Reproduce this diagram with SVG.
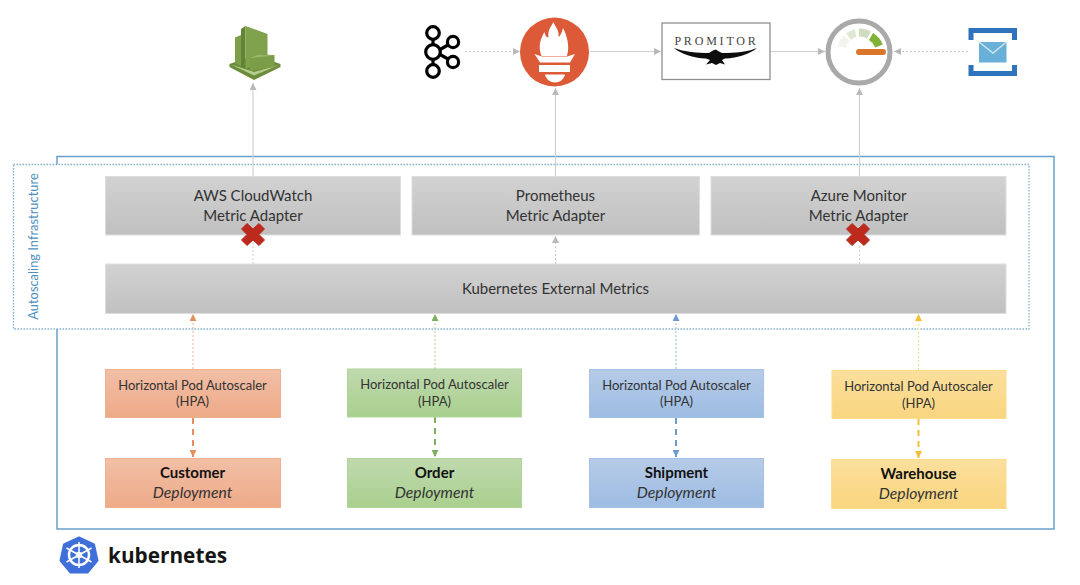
<svg xmlns="http://www.w3.org/2000/svg" width="1080" height="585" viewBox="0 0 1080 585">
<defs>
<linearGradient id="gGray" x1="0" y1="0" x2="0" y2="1"><stop offset="0" stop-color="#d2d2d2"/><stop offset="1" stop-color="#c0c0c0"/></linearGradient>
<linearGradient id="gOrange" x1="0" y1="0" x2="0" y2="1"><stop offset="0" stop-color="#f2bfa6"/><stop offset="1" stop-color="#eeaa88"/></linearGradient>
<linearGradient id="gGreen" x1="0" y1="0" x2="0" y2="1"><stop offset="0" stop-color="#bfd9ae"/><stop offset="1" stop-color="#a9d08e"/></linearGradient>
<linearGradient id="gBlue" x1="0" y1="0" x2="0" y2="1"><stop offset="0" stop-color="#b6cbe7"/><stop offset="1" stop-color="#9dbce2"/></linearGradient>
<linearGradient id="gYellow" x1="0" y1="0" x2="0" y2="1"><stop offset="0" stop-color="#fbdf9c"/><stop offset="1" stop-color="#f9d57f"/></linearGradient>
<marker id="aGray" markerWidth="8" markerHeight="7" refX="7" refY="3.500" orient="auto" markerUnits="userSpaceOnUse"><path d="M0 0L7 3.500L0 7z" fill="#b9b9b9"/></marker>
<marker id="aOrange" markerWidth="8" markerHeight="7" refX="7" refY="3.500" orient="auto" markerUnits="userSpaceOnUse"><path d="M0 0L7 3.500L0 7z" fill="#e58f5f"/></marker>
<marker id="aGreen" markerWidth="8" markerHeight="7" refX="7" refY="3.500" orient="auto" markerUnits="userSpaceOnUse"><path d="M0 0L7 3.500L0 7z" fill="#7fae5e"/></marker>
<marker id="aBlue" markerWidth="8" markerHeight="7" refX="7" refY="3.500" orient="auto" markerUnits="userSpaceOnUse"><path d="M0 0L7 3.500L0 7z" fill="#6d9bd0"/></marker>
<marker id="aYellow" markerWidth="8" markerHeight="7" refX="7" refY="3.500" orient="auto" markerUnits="userSpaceOnUse"><path d="M0 0L7 3.500L0 7z" fill="#f2c037"/></marker>
</defs>
<style>
text{font-family:"Lato","Carlito","Open Sans",sans-serif;text-anchor:middle;fill:#333}
.gray{fill:url(#gGray);stroke:#dedede;stroke-width:1}
.t15{font-size:15px}
.t13{font-size:13px}
.b{font-size:15px;font-weight:700;fill:#111}
.i{font-size:15.700px;font-style:italic}
.solid{fill:none;stroke:#d0d0d0;stroke-width:1.200;marker-end:url(#aGray)}
.dots{fill:none;stroke:#cacaca;stroke-width:1.100;stroke-dasharray:2 2;marker-end:url(#aGray)}
.plain{fill:none;stroke:#d0d0d0;stroke-width:1.100;stroke-dasharray:2 2}
.up{fill:none;stroke-width:1;stroke-dasharray:2 2}
.down{fill:none;stroke-width:2;stroke-dasharray:6 5}
</style>
<rect width="1080" height="585" fill="#fff"/>

<g id="kubernetes-frame"><rect x="57" y="156.500" width="997" height="372.500" fill="none" stroke="#6a9fc9" stroke-width="1.500"/></g>
<g id="autoscaling-infrastructure">
<rect x="13.500" y="164.500" width="1015.500" height="164.500" fill="#fff" stroke="#7fb2cf" stroke-width="1.300" stroke-dasharray="1.500 1.500"/>
<text transform="translate(38 246.500) rotate(-90)" style="font-size:12.900px;fill:#4f8fc0">Autoscaling Infrastructure</text>
</g>

<g id="connectors">
<path class="solid" d="M253 177V83"/>
<path class="solid" d="M555.500 177V88"/>
<path class="solid" d="M859.500 177V88"/>
<path class="dots" d="M465 51.500H520"/>
<path class="solid" d="M590 51.500H661"/>
<path class="solid" d="M770 51.500H825"/>
<path class="dots" d="M968 51.500H894"/>
<path class="plain" d="M253 264V240"/>
<path class="dots" d="M555.500 264V236"/>
<path class="plain" d="M859.500 264V244"/>
<path class="up" stroke="#ecb698" marker-end="url(#aOrange)" d="M193 369V314"/>
<path class="up" stroke="#b2d09d" marker-end="url(#aGreen)" d="M435 369V314"/>
<path class="up" stroke="#9cbce0" marker-end="url(#aBlue)" d="M676 369V314"/>
<path class="up" stroke="#f8d983" marker-end="url(#aYellow)" d="M918.500 370V314"/>
<path class="down" stroke="#e58f5f" marker-end="url(#aOrange)" d="M193 418V457"/>
<path class="down" stroke="#7fae5e" marker-end="url(#aGreen)" d="M435 417V457"/>
<path class="down" stroke="#6d9bd0" marker-end="url(#aBlue)" d="M676 418V457"/>
<path class="down" stroke="#f2c037" marker-end="url(#aYellow)" d="M918.500 419V458"/>
</g>

<g id="aws-adapter"><rect class="gray" x="105.500" y="176.500" width="295" height="58.500"/><text class="t15" x="253" y="201">AWS CloudWatch</text><text class="t15" x="253" y="221">Metric Adapter</text></g>
<g id="prometheus-adapter"><rect class="gray" x="412" y="176.500" width="287.500" height="58.500"/><text class="t15" x="555.500" y="201">Prometheus</text><text class="t15" x="555.500" y="221">Metric Adapter</text></g>
<g id="azure-adapter"><rect class="gray" x="711" y="176.500" width="295" height="58.500"/><text class="t15" x="858.500" y="201">Azure Monitor</text><text class="t15" x="858.500" y="221">Metric Adapter</text></g>
<g id="external-metrics"><rect class="gray" x="105.500" y="264" width="900.500" height="49.500"/><text class="t15" x="555.500" y="294">Kubernetes External Metrics</text></g>

<g id="cross-aws"><path d="M253 229L259 223.500L264.500 229L259 234.500L264.500 240L259 245.500L253 240L247 245.500L241.500 240L247 234.500L241.500 229L247 223.500z" fill="#bb2a1d" stroke="#bb2a1d" stroke-linejoin="round"/></g>
<g id="cross-azure"><path d="M858 229L864 223.500L869.500 229L864 234.500L869.500 240L864 245.500L858 240L852 245.500L846.500 240L852 234.500L846.500 229L852 223.500z" fill="#bb2a1d" stroke="#bb2a1d" stroke-linejoin="round"/></g>

<g id="hpa-customer"><rect x="105.500" y="369.500" width="175" height="48" fill="url(#gOrange)" stroke="#f0b090"/><text class="t13" x="192.500" y="389.500">Horizontal Pod Autoscaler</text><text class="t13" x="192.500" y="406">(HPA)</text></g>
<g id="hpa-order"><rect x="347.500" y="369" width="174" height="48" fill="url(#gGreen)" stroke="#b0d49a"/><text class="t13" x="434.500" y="389">Horizontal Pod Autoscaler</text><text class="t13" x="434.500" y="405.500">(HPA)</text></g>
<g id="hpa-shipment"><rect x="589.500" y="369.500" width="174" height="48" fill="url(#gBlue)" stroke="#a5c2e6"/><text class="t13" x="676.500" y="389.500">Horizontal Pod Autoscaler</text><text class="t13" x="676.500" y="406">(HPA)</text></g>
<g id="hpa-warehouse"><rect x="832" y="370.500" width="174" height="48" fill="url(#gYellow)" stroke="#fbdc8c"/><text class="t13" x="918.500" y="391">Horizontal Pod Autoscaler</text><text class="t13" x="918.500" y="407.500">(HPA)</text></g>

<g id="customer-deployment"><rect x="105.500" y="458.500" width="175" height="49" fill="url(#gOrange)" stroke="#f0b090"/><text class="b" x="192.500" y="478">Customer</text><text class="i" x="192.500" y="497.500">Deployment</text></g>
<g id="order-deployment"><rect x="347.500" y="458.500" width="174" height="49" fill="url(#gGreen)" stroke="#b0d49a"/><text class="b" x="434.500" y="478">Order</text><text class="i" x="434.500" y="497.500">Deployment</text></g>
<g id="shipment-deployment"><rect x="589.500" y="458.500" width="174" height="49" fill="url(#gBlue)" stroke="#a5c2e6"/><text class="b" x="676.500" y="478">Shipment</text><text class="i" x="676.500" y="497.500">Deployment</text></g>
<g id="warehouse-deployment"><rect x="831.500" y="459.500" width="174.500" height="49" fill="url(#gYellow)" stroke="#fbdc8c"/><text class="b" x="918.500" y="479">Warehouse</text><text class="i" x="918.500" y="498.500">Deployment</text></g>

<g id="cloudwatch">
<path d="M229.500 64L255 55L280.500 64V67L254 80L229.500 67z" fill="#6c8c3c"/>
<path d="M231 64.500L254 75.500L279 65L254 72z" fill="#b4cd8e"/>
<path d="M235 37.500L241 35V66L235 63z" fill="#7d9f4a"/>
<path d="M241 29L245.500 26V69L241 66.500z" fill="#638436"/>
<path d="M245.500 26L267.500 34V58L245.500 69z" fill="#80a24d"/>
<path d="M250 58.500L261 54.500L274.500 55V67L250 71z" fill="#7c9d47"/>
<path d="M250 58L258 55L274.500 55.500z" fill="#9dbb6f"/>
</g>

<g id="kafka" fill="none" stroke="#000" stroke-width="3.200">
<circle cx="433" cy="33" r="6.300"/><circle cx="433" cy="52" r="7.300"/><circle cx="433" cy="71" r="6.300"/><circle cx="453" cy="42" r="5.600"/><circle cx="453" cy="62" r="5.600"/>
<path d="M433 39V45M433 59V65M440 49.500L448 45M440 54.500L448 59"/>
</g>

<g id="prometheus">
<circle cx="554.500" cy="52" r="34.500" fill="#dc5a38"/>
<path d="M541.500 56C537.500 46 541 38 544.500 32C545 36 547 38 548.500 37C547.500 30 551 27 553.500 22C555 27 559.500 30 558.500 37C560 36 562 33 563 28C567 36 570 46 567 56z" fill="#fff"/>
<path d="M534.500 54L542 56.500H567L575 54L570 62.500H540z" fill="#fff"/>
<rect x="539" y="65" width="31" height="7" fill="#fff"/>
<path d="M545 74.500H565C564 79.500 559.500 82.500 555 82.500C550.500 82.500 546 79.500 545 74.500z" fill="#fff"/>
</g>

<g id="promitor">
<rect x="662" y="23" width="108" height="56.500" fill="#fff" stroke="#8f8f8f" stroke-width="1.300"/>
<text x="716.500" y="44.500" style="font-family:'Liberation Serif',serif;font-size:12px;letter-spacing:2.800px;fill:#444">PROMITOR</text>
<path d="M674 48C684 52 698 53 709 53L713 50.500L716 49.500L718 51L722 53C735 53 748 52 757 48C750 54 738 58 725 58.500L722 60L725 64.500L720 63L716 65L712 63L706 64.500L710 60L706 58.500C693 58 681 54 674 48z" fill="#0d0d0d"/>
</g>

<g id="azure-monitor">
<circle cx="859" cy="52" r="31" fill="#fff" stroke="#a9a9a9" stroke-width="5"/>
<g fill="none" stroke-width="8">
<path d="M842 47A18 18 0 0 1 846.500 38" stroke="#f2f4f0"/>
<path d="M848.500 36.500A19 19 0 0 1 855.500 33" stroke="#dee8d3"/>
<path d="M859 32.500A19 19 0 0 1 869 35" stroke="#cfdcbf"/>
<path d="M871 36.500A19 19 0 0 1 879 46" stroke="#7fb236"/>
</g>
<path d="M859 52H883" stroke="#d9762c" stroke-width="6" stroke-linecap="round"/>
</g>

<g id="service-bus">
<path d="M968.500 40V28H1017V40H1012V33H973.500V40z" fill="#2f73bd"/>
<path d="M968.500 65V76H1017V65H1012V71H973.500V65z" fill="#2f73bd"/>
<rect x="979" y="42" width="27.500" height="20.500" fill="#69b0d8"/>
<path d="M979 42L993 53L1006.500 42" fill="none" stroke="#cfe6f2" stroke-width="1.500"/>
</g>

<g id="kubernetes-logo">
<path d="M79 537.500L94 544.500L97.500 560.500L87.500 572.500H70.500L60.500 560.500L64 544.500z" fill="#3f6fd8" stroke="#3f6fd8" stroke-width="2" stroke-linejoin="round"/>
<g fill="none" stroke="#fff">
<circle cx="79" cy="555" r="10" stroke-width="2.500"/>
<circle cx="79" cy="555" r="2.500" stroke-width="1.500"/>
<path stroke-width="1.500" d="M79 542V568M66.500 548L91.500 562M91.500 548L66.500 562"/>
</g>
<text x="108" y="563" style="font-family:'Open Sans',sans-serif;font-weight:700;font-size:20.800px;fill:#151515;text-anchor:start">kubernetes</text>
</g>
</svg>
